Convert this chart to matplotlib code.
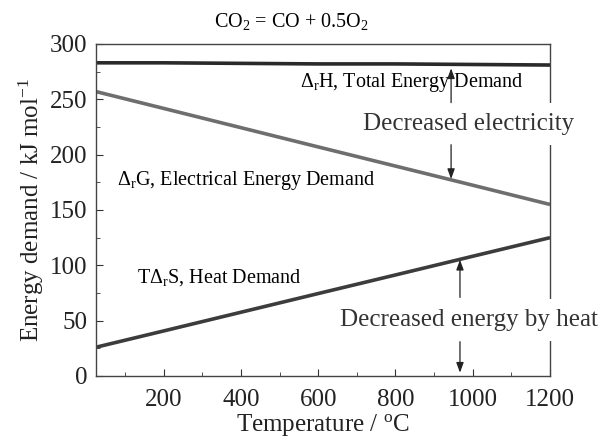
import matplotlib
matplotlib.use("Agg")
import matplotlib.pyplot as plt
from matplotlib.ticker import MultipleLocator

plt.rcParams['font.family'] = ['Liberation Serif', 'DejaVu Serif']
plt.rcParams['mathtext.fontset'] = 'custom'
plt.rcParams['mathtext.rm'] = 'Liberation Serif'
plt.rcParams['mathtext.it'] = 'Liberation Serif:italic'

# data
temp = [25, 200, 400, 600, 800, 1000, 1200]
dH = [283, 283, 282.5, 282, 282, 281.5, 281]
dG = [257, 241.8, 224.4, 207, 189.7, 172.4, 155]
TdS = [26, 40.7, 57.6, 74.5, 91.3, 108.2, 125]

fig = plt.figure(figsize=(6.03, 4.41), dpi=100)
ax = fig.add_axes([96/603, 1-376/441, 454/603, 332/441])

ax.plot(temp, dH, color='#2a2a2a', lw=2.6, solid_capstyle='butt')
ax.plot(temp, dG, color='#6e6e6e', lw=2.6, solid_capstyle='butt')
ax.plot(temp, TdS, color='#3c3c3c', lw=2.6, solid_capstyle='butt')

ax.set_xlim(25, 1200)
ax.set_ylim(0, 300)
ax.xaxis.set_major_locator(MultipleLocator(200))
ax.xaxis.set_minor_locator(MultipleLocator(100))
ax.yaxis.set_major_locator(MultipleLocator(50))
ax.yaxis.set_minor_locator(MultipleLocator(25))
ax.tick_params(which='both', direction='in', top=False, right=False,
               labelsize=18, color='#333333', labelcolor='#222222')
ax.tick_params(which='major', length=5)
ax.tick_params(which='minor', length=3)
ax.tick_params(axis='x', which='major', pad=9)
ax.tick_params(axis='y', which='major', pad=6)
for s in ax.spines.values():
    s.set_color('#444444')
    s.set_linewidth(1.0)
ax.set_xticks([200, 400, 600, 800, 1000, 1200])

ax.set_xlabel(r'Temperature / $^{\mathrm{o}}$C', fontsize=18, labelpad=1, color='#222222')
ax.set_ylabel(r'Energy demand / kJ mol$^{\mathrm{-1}}$', fontsize=18, labelpad=3, color='#222222')

fig.text(0.483, 1-22/441, r'CO$_2$ = CO + 0.5O$_2$', ha='center', va='center', fontsize=14.5)

ax.text(553, 265, r'$\Delta_{\mathrm{r}}$H, Total Energy Demand', fontsize=14.5, va='center')
ax.text(79, 177, r'$\Delta_{\mathrm{r}}$G, Electrical Energy Demand', fontsize=14.5, va='center')
ax.text(131, 89, r'T$\Delta_{\mathrm{r}}$S, Heat Demand', fontsize=14.5, va='center')
box = dict(facecolor='white', edgecolor='none', pad=7)
ax.text(716, 227.5, 'Decreased electricity', fontsize=18, va='center', color='#333333',
        bbox=box, clip_on=False, zorder=4)
ax.text(656, 50.5, 'Decreased energy by heat', fontsize=18, va='center', color='#333333',
        bbox=box, clip_on=False, zorder=4)

ap = dict(arrowstyle='-|>,head_length=0.6,head_width=0.22', color='#222222', lw=0.9,
          shrinkA=0, shrinkB=0)
ax.annotate('', xy=(944, 278), xytext=(944, 247), arrowprops=ap, zorder=5)
ax.annotate('', xy=(944, 178), xytext=(944, 209), arrowprops=ap, zorder=5)
ax.annotate('', xy=(967, 105), xytext=(967, 71), arrowprops=ap, zorder=5)
ax.annotate('', xy=(967, 3), xytext=(967, 31), arrowprops=ap, zorder=5)

fig.savefig('out.png', dpi=100)
